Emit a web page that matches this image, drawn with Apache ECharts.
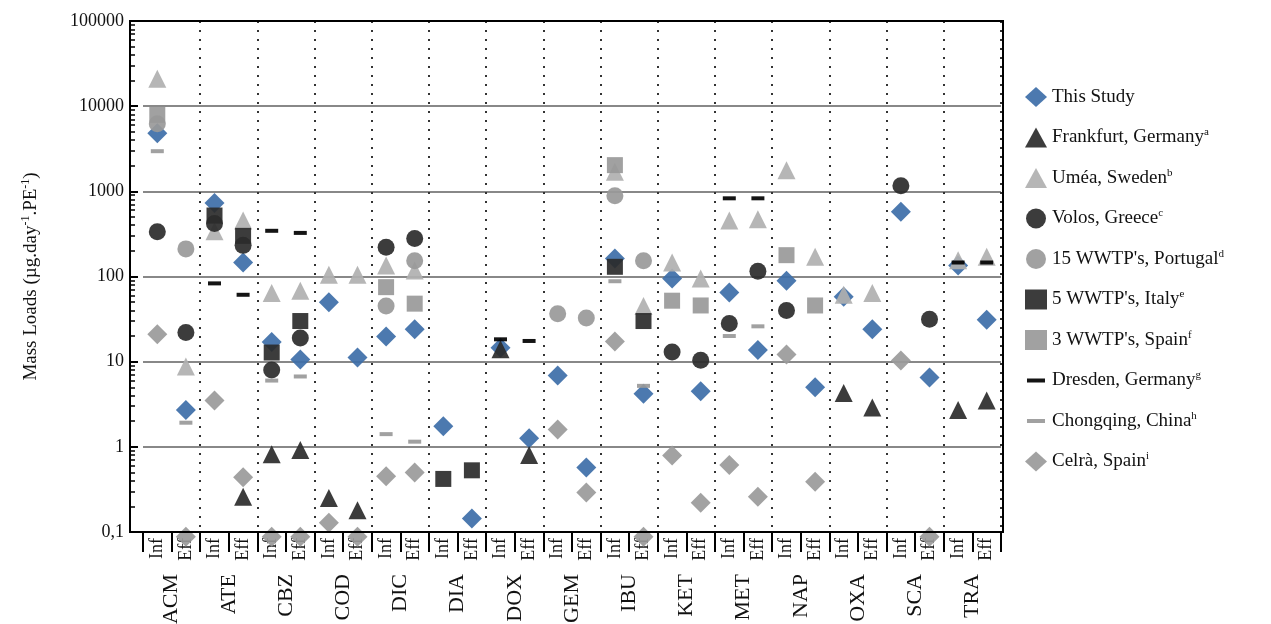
<!DOCTYPE html>
<html>
<head>
<meta charset="utf-8">
<script src="https://cdn.jsdelivr.net/npm/echarts@6/dist/echarts.min.js"></script>
<style>
  html, body { margin: 0; padding: 0; background: #fff; }
  #main { width: 1271px; height: 624px; }
</style>
</head>
<body>
<div id="main"></div>
<script>
// compounds, each has an Inf and an Eff slot
const compounds = ['ACM', 'ATE', 'CBZ', 'COD', 'DIC', 'DIA', 'DOX', 'GEM', 'IBU', 'KET', 'MET', 'NAP', 'OXA', 'SCA', 'TRA']
const slots = []
compounds.forEach(c => { slots.push('Inf'); slots.push('Eff') })

// values per slot (ACM Inf, ACM Eff, ATE Inf, ...), null = no value
const n = null
const thisStudy = [4800, 2.7, 730, 146, 17, 10.6, 50, 11.2, 19.7, 24, 1.75, 0.144, 14.6, 1.26, 6.9, 0.57, 163, 4.2, 95, 4.5, 65, 13.7, 89, 5.0, 58, 24, 575, 6.5, 135, 31]
const frankfurt = [n, n, n, 0.26, 0.82, 0.92, 0.25, 0.18, n, n, n, n, 14, 0.8, n, n, n, n, n, n, n, n, n, n, 4.3, 2.9, n, n, 2.7, 3.5]
const umea = [21000, 8.8, 340, 455, 64, 68, 105, 105, 135, 118, n, n, n, n, n, n, 1700, 45, 146, 95, 455, 470, 1770, 171, 61, 64, n, n, 155, 171]
const volos = [335, 22, 420, 232, 8.0, 19, n, n, 220, 280, n, n, n, n, n, n, n, n, 13, 10.4, 28, 115, 40, n, n, n, 1160, 31.4, n, n]
const portugal = [6200, 211, n, n, n, n, n, n, 45, 153, n, n, n, n, 36.5, 32.6, 890, 153, n, n, n, n, n, n, n, n, n, n, n, n]
const italy = [n, n, 520, 300, 12.8, 30, n, n, n, n, 0.42, 0.53, n, n, n, n, 130, 30, n, n, n, n, n, n, n, n, n, n, n, n]
const spain3 = [7900, n, n, n, n, n, n, n, 75, 48, n, n, n, n, n, n, 2030, n, 52, 45.7, n, n, 178, 45.7, n, n, n, n, n, n]
const dresden = [n, n, 83, 61, 344, 325, n, n, n, n, n, n, 18.3, 17.5, n, n, n, n, n, n, 828, 828, n, n, n, n, n, n, 146, 146]
const chongqing = [2960, 1.92, n, n, 6.0, 6.7, n, n, 1.41, 1.15, n, n, n, n, n, n, 88, 5.2, n, n, 20, 26, n, n, n, n, n, n, n, n]
const celra = [21, 0.088, 3.5, 0.44, 0.088, 0.088, 0.128, 0.088, 0.45, 0.50, n, n, n, n, 1.6, 0.29, 17.3, 0.088, 0.79, 0.22, 0.61, 0.26, 12.1, 0.39, n, n, 10.3, 0.088, n, n]

const dashIcon = 'path://M0,0L0.01,0M20,20L20.01,20M1,8h18v4h-18z'

const seriesDefs = [
  { name: 'This Study', sup: '', data: thisStudy, symbol: 'diamond', size: 20, color: '#3d6ea8' },
  { name: 'Frankfurt, Germany', sup: 'a', data: frankfurt, symbol: 'triangle', size: 18, color: '#2b2b2b' },
  { name: 'Uméa, Sweden', sup: 'b', data: umea, symbol: 'triangle', size: 18, color: '#b0b0b0' },
  { name: 'Volos, Greece', sup: 'c', data: volos, symbol: 'circle', size: 17, color: '#2b2b2b' },
  { name: "15 WWTP's, Portugal", sup: 'd', data: portugal, symbol: 'circle', size: 17, color: '#999999' },
  { name: "5 WWTP's, Italy", sup: 'e', data: italy, symbol: 'rect', size: 16, color: '#2b2b2b' },
  { name: "3 WWTP's, Spain", sup: 'f', data: spain3, symbol: 'rect', size: 16, color: '#999999' },
  { name: 'Dresden, Germany', sup: 'g', data: dresden, symbol: 'rect', size: [13, 4], color: '#000000', icon: dashIcon },
  { name: 'Chongqing, China', sup: 'h', data: chongqing, symbol: 'rect', size: [13, 4], color: '#999999', icon: dashIcon },
  { name: 'Celrà, Spain', sup: 'i', data: celra, symbol: 'diamond', size: 20, color: '#9a9a9a' }
]
const supOf = {}
seriesDefs.forEach(s => { supOf[s.name] = s.sup })

const font = 'Liberation Serif'
var chart = echarts.init(document.getElementById('main'))

const option = {
  animation: false,
  textStyle: { fontFamily: font },
  grid: { left: 143, right: 270, top: 21, bottom: 92, outerBoundsMode: 'none' },
  legend: {
    orient: 'vertical',
    left: 1020,
    top: 82,
    itemWidth: 22,
    itemHeight: 20,
    itemGap: 20,
    data: seriesDefs.map(s => s.icon ? { name: s.name, icon: s.icon } : { name: s.name }),
    formatter: name => supOf[name] ? name + '{s|' + supOf[name] + '}' : name,
    textStyle: {
      fontFamily: font, fontSize: 19, color: '#111',
      rich: { s: { fontFamily: font, fontSize: 11, verticalAlign: 'top', padding: [0, 0, 10, 0] } }
    }
  },
  xAxis: [{
    type: 'category',
    data: slots,
    position: 'bottom',
    axisLine: { show: false },
    axisTick: { show: true, length: 20, lineStyle: { color: '#000', width: 2 } },
    axisLabel: { rotate: 90, fontFamily: font, fontSize: 18, color: '#111', margin: 6, interval: 0 },
    splitLine: {
      show: true,
      interval: i => i % 2 === 0 && i > 0,
      lineStyle: { color: '#333', width: 2, type: [2, 7] }
    }
  }, {
    type: 'category',
    data: compounds,
    position: 'bottom',
    offset: 38,
    axisLine: { show: false },
    axisTick: { show: false },
    axisLabel: { rotate: 90, fontFamily: font, fontSize: 22, color: '#111', margin: 4, interval: 0 }
  }],
  yAxis: {
    type: 'log',
    min: 0.1,
    max: 100000,
    offset: 13,
    name: 'Mass Loads (µg.day{s|-1}.PE{s|-1})',
    nameLocation: 'middle',
    nameGap: 88,
    nameTextStyle: {
      fontFamily: font, fontSize: 19, color: '#111',
      rich: { s: { fontFamily: font, fontSize: 12, verticalAlign: 'top', padding: [0, 0, 10, 0] } }
    },
    axisLine: { show: true, lineStyle: { color: '#000', width: 2 } },
    axisTick: { show: true, inside: true, length: 8, lineStyle: { color: '#000', width: 2 } },
    minorTick: { show: true, splitNumber: 9, length: 5, lineStyle: { color: '#000', width: 1.5 } },
    axisLabel: {
      fontFamily: font, fontSize: 18, color: '#111', margin: 6,
      formatter: v => v < 1 ? String(v).replace('.', ',') : String(Math.round(v))
    },
    splitLine: { show: true, lineStyle: { color: '#888', width: 2 } }
  },
  graphic: [{
    type: 'rect',
    shape: { x: 130, y: 21, width: 873, height: 511 },
    style: { fill: 'none', stroke: '#000', lineWidth: 2 },
    z: 100
  }],
  series: seriesDefs.map(s => ({
    name: s.name,
    type: 'scatter',
    clip: false,
    symbol: s.symbol,
    symbolSize: s.size,
    itemStyle: { color: s.color, opacity: 0.92 },
    data: s.data.map((v, i) => v == null ? null : [i, v]).filter(d => d)
  }))
}

option && chart.setOption(option)
</script>
</body>
</html>
